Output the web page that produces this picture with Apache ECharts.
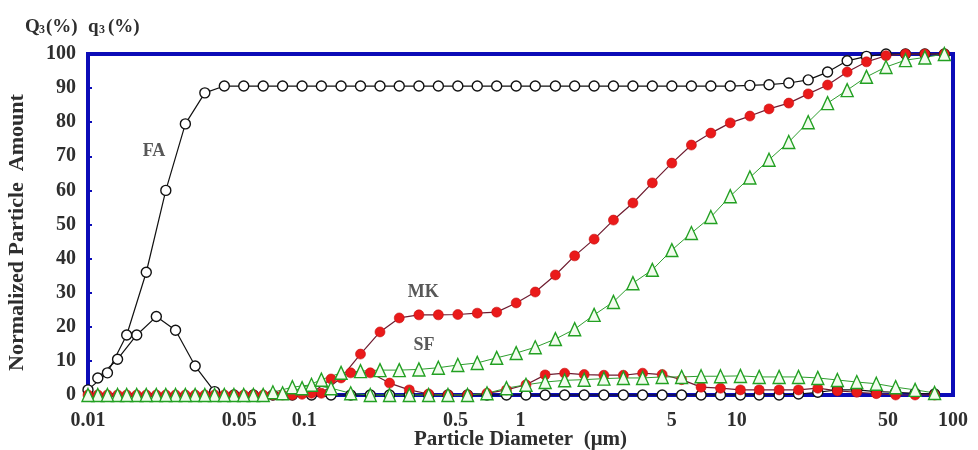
<!DOCTYPE html>
<html>
<head>
<meta charset="utf-8">
<script src="https://cdn.jsdelivr.net/npm/echarts@6/dist/echarts.min.js"></script>
<style>
  html, body { margin: 0; padding: 0; background: #ffffff; }
  #chart { width: 978px; height: 450px; }
</style>
</head>
<body>
<div id="chart"></div>
<script>
// Size classes (µm): cumulative values sit on the class edges,
// frequency values on the class mid-points.
const diameters = [0.0100, 0.0123, 0.0151, 0.0186, 0.0229, 0.0282, 0.0347, 0.0427, 0.0525, 0.0646,
  0.0794, 0.0977, 0.120, 0.148, 0.182, 0.224, 0.275, 0.339, 0.417, 0.513,
  0.631, 0.776, 0.955, 1.17, 1.45, 1.78, 2.19, 2.69, 3.31, 4.07,
  5.01, 6.17, 7.59, 9.33, 11.5, 14.1, 17.4, 21.4, 26.3, 32.4,
  39.8, 49.0, 60.3, 74.1, 91.2];

const binMids = [0.0111, 0.0137, 0.0168, 0.0207, 0.0254, 0.0313, 0.0385, 0.0473, 0.0582, 0.0716,
  0.0881, 0.108, 0.133, 0.164, 0.202, 0.248, 0.306, 0.376, 0.462, 0.569,
  0.700, 0.861, 1.06, 1.30, 1.60, 1.97, 2.43, 2.99, 3.67, 4.52,
  5.56, 6.84, 8.41, 10.4, 12.7, 15.7, 19.3, 23.7, 29.2, 35.9,
  44.2, 54.3, 66.8, 82.2];

// Q3: cumulative undersize (%)
const faCumulative = [1.5, 6.5, 17.6, 36, 60, 79.5, 88.6, 90.6, 90.6, 90.6,
  90.6, 90.6, 90.6, 90.6, 90.6, 90.6, 90.6, 90.6, 90.6, 90.6,
  90.6, 90.6, 90.6, 90.6, 90.6, 90.6, 90.6, 90.6, 90.6, 90.6,
  90.6, 90.6, 90.6, 90.6, 90.8, 91.0, 91.5, 92.4, 94.7, 98.0,
  99.3, 100, 100, 100, 100];

const mkCumulative = [0, 0, 0, 0, 0, 0, 0, 0, 0, 0,
  0, 0.2, 0.5, 5, 12, 18.5, 22.6, 23.5, 23.5, 23.6,
  24, 24.3, 27, 30.2, 35.2, 40.8, 45.7, 51.3, 56.3, 62.2,
  68, 73.3, 76.8, 79.8, 81.8, 83.9, 85.6, 88.3, 90.9, 94.7,
  97.7, 99.5, 100, 100, 100];

const sfCumulative = [0, 0, 0, 0, 0, 0, 0, 0, 0, 0,
  0.5, 2, 4.5, 6.5, 7, 7.3, 7.3, 7.5, 8, 8.8,
  9.4, 10.9, 12.3, 14, 16.4, 19.3, 23.5, 27.3, 32.8, 36.7,
  42.5, 47.5, 52.2, 58.3, 63.8, 69, 74.2, 80, 85.6, 89.4,
  93.3, 96.2, 98.2, 99, 100];

// q3: frequency (%)
const faFrequency = [5, 10.5, 17.6, 23, 19, 8.5, 1, 0, 0, 0,
  0, 0, 0, 0, 0, 0, 0, 0, 0, 0,
  0, 0, 0, 0, 0, 0, 0, 0, 0, 0,
  0, 0, 0, 0, 0, 0, 0.3, 0.8, 1.5, 1.5,
  1, 0.8, 0.5, 0.3];

const mkFrequency = [0, 0, 0, 0, 0, 0, 0, 0, 0, 0,
  0, 0.5, 4.7, 6.5, 6.5, 3.5, 1.5, 0.3, 0, 0,
  0.5, 1.5, 3, 5.9, 6.4, 6, 5.8, 5.8, 6.4, 6,
  4.5, 2.3, 2, 1.5, 1.5, 1.5, 1.5, 2, 1.2, 0.8,
  0.4, 0, 0, 0];

const sfFrequency = [0, 0, 0, 0, 0, 0, 0, 0, 0, 0.8,
  2.3, 3, 2, 0.5, 0, 0, 0, 0, 0, 0,
  0.5, 2, 3, 3.8, 4.3, 4.5, 4.8, 5, 5, 5.3,
  5.3, 5.5, 5.5, 5.6, 5.3, 5.3, 5.3, 5, 4.4, 3.8,
  3.3, 2.3, 1.5, 0.6];

const xTickValues = [0.01, 0.05, 0.1, 0.5, 1, 5, 10, 50, 100];
const xTickLabels = ['0.01', '0.05', '0.1', '0.5', '1', '5', '10', '50', '100'];

const curveNames = ['FA', 'MK', 'SF'];
const curveNameAt = [[0.0202, 71.5], [0.355, 30.2], [0.358, 14.7]];

const SERIF = '"Liberation Serif", "Times New Roman", serif';
const TEXT = '#2e2e2e';
const FRAME = '#0c0cb8';

function pairs(xs, ys) {
  return ys.map((v, i) => [xs[i], v]);
}

const faStyle = {
  symbol: 'circle', symbolSize: 10,
  itemStyle: { color: '#ffffff', borderColor: '#111111', borderWidth: 1.4 },
  lineStyle: { color: '#111111', width: 1.2 }
};
const mkStyle = {
  symbol: 'circle', symbolSize: 10,
  itemStyle: { color: '#ea1a1a', borderColor: '#c81010', borderWidth: 0.6 },
  lineStyle: { color: '#6e1c30', width: 1.2 }
};
const sfStyle = {
  symbol: 'triangle', symbolSize: [12, 13],
  itemStyle: { color: '#f2fcee', borderColor: '#22a022', borderWidth: 1.4 },
  lineStyle: { color: '#2f9e2f', width: 1 }
};

function curve(name, xs, ys, style) {
  return Object.assign({
    type: 'line', name: name, data: pairs(xs, ys),
    showAllSymbol: true, clip: false, silent: true
  }, style);
}

const chart = echarts.init(document.getElementById('chart'), null, { renderer: 'canvas' });

chart.setOption({
  animation: false,
  backgroundColor: '#ffffff',
  grid: {
    left: 88, right: 25, top: 54, bottom: 55,
    containLabel: false, outerBoundsMode: 'none',
    show: true, borderColor: FRAME, borderWidth: 4, backgroundColor: 'transparent'
  },
  xAxis: {
    type: 'log', logBase: 10, min: 0.01, max: 100,
    name: 'Particle Diameter  (\u03bcm)',
    nameLocation: 'middle', nameGap: 34, nameMoveOverlap: false,
    nameTextStyle: { fontFamily: SERIF, fontWeight: 'bold', fontSize: 21, color: TEXT },
    axisLine: { show: false },
    axisTick: { show: false, customValues: xTickValues },
    splitLine: { show: false },
    minorTick: { show: false },
    axisLabel: {
      customValues: xTickValues,
      margin: 16,
      fontFamily: SERIF, fontWeight: 'bold', fontSize: 20, color: TEXT,
      formatter: function (v) {
        let best = 0;
        xTickValues.forEach((t, i) => {
          if (Math.abs(Math.log10(t) - Math.log10(v)) < Math.abs(Math.log10(xTickValues[best]) - Math.log10(v))) best = i;
        });
        return xTickLabels[best];
      }
    }
  },
  yAxis: {
    type: 'value', min: 0, max: 100, interval: 10,
    name: 'Normalized Particle  Amount',
    nameLocation: 'middle', nameGap: 60, nameMoveOverlap: false,
    nameTextStyle: { fontFamily: SERIF, fontWeight: 'bold', fontSize: 22, color: TEXT, padding: [0, 16, 0, 0] },
    axisLine: { show: false },
    axisTick: { show: true, inside: true, length: 4, lineStyle: { color: FRAME, width: 2 } },
    splitLine: { show: false },
    axisLabel: { margin: 12, fontFamily: SERIF, fontWeight: 'bold', fontSize: 20, color: TEXT }
  },
  graphic: [
    {
      type: 'group', left: 25, top: 18,
      children: [
        { type: 'text', x: 0, y: 0, style: { text: 'Q', font: 'bold 19px ' + SERIF, fill: TEXT } },
        { type: 'text', x: 14, y: 6, style: { text: '3', font: 'bold 12px ' + SERIF, fill: TEXT } },
        { type: 'text', x: 21, y: 0, style: { text: '(%)', font: 'bold 19px ' + SERIF, fill: TEXT } },
        { type: 'text', x: 63, y: 0, style: { text: 'q', font: 'bold 19px ' + SERIF, fill: TEXT } },
        { type: 'text', x: 74, y: 6, style: { text: '3', font: 'bold 12px ' + SERIF, fill: TEXT } },
        { type: 'text', x: 83, y: 0, style: { text: '(%)', font: 'bold 19px ' + SERIF, fill: TEXT } }
      ]
    }
  ],
  series: [
    curve('FA q3', binMids, faFrequency, faStyle),
    curve('FA Q3', diameters, faCumulative, faStyle),
    curve('MK q3', binMids, mkFrequency, mkStyle),
    curve('MK Q3', diameters, mkCumulative, mkStyle),
    curve('SF q3', binMids, sfFrequency, sfStyle),
    curve('SF Q3', diameters, sfCumulative, sfStyle),
    {
      type: 'scatter', name: 'curve names', silent: true,
      symbolSize: 1, itemStyle: { color: 'transparent' },
      data: curveNames.map((n, i) => ({ name: n, value: curveNameAt[i] })),
      label: {
        show: true, position: 'inside', formatter: '{b}',
        fontFamily: SERIF, fontWeight: 'bold', fontSize: 18, color: TEXT
      }
    }
  ]
});
</script>
</body>
</html>
